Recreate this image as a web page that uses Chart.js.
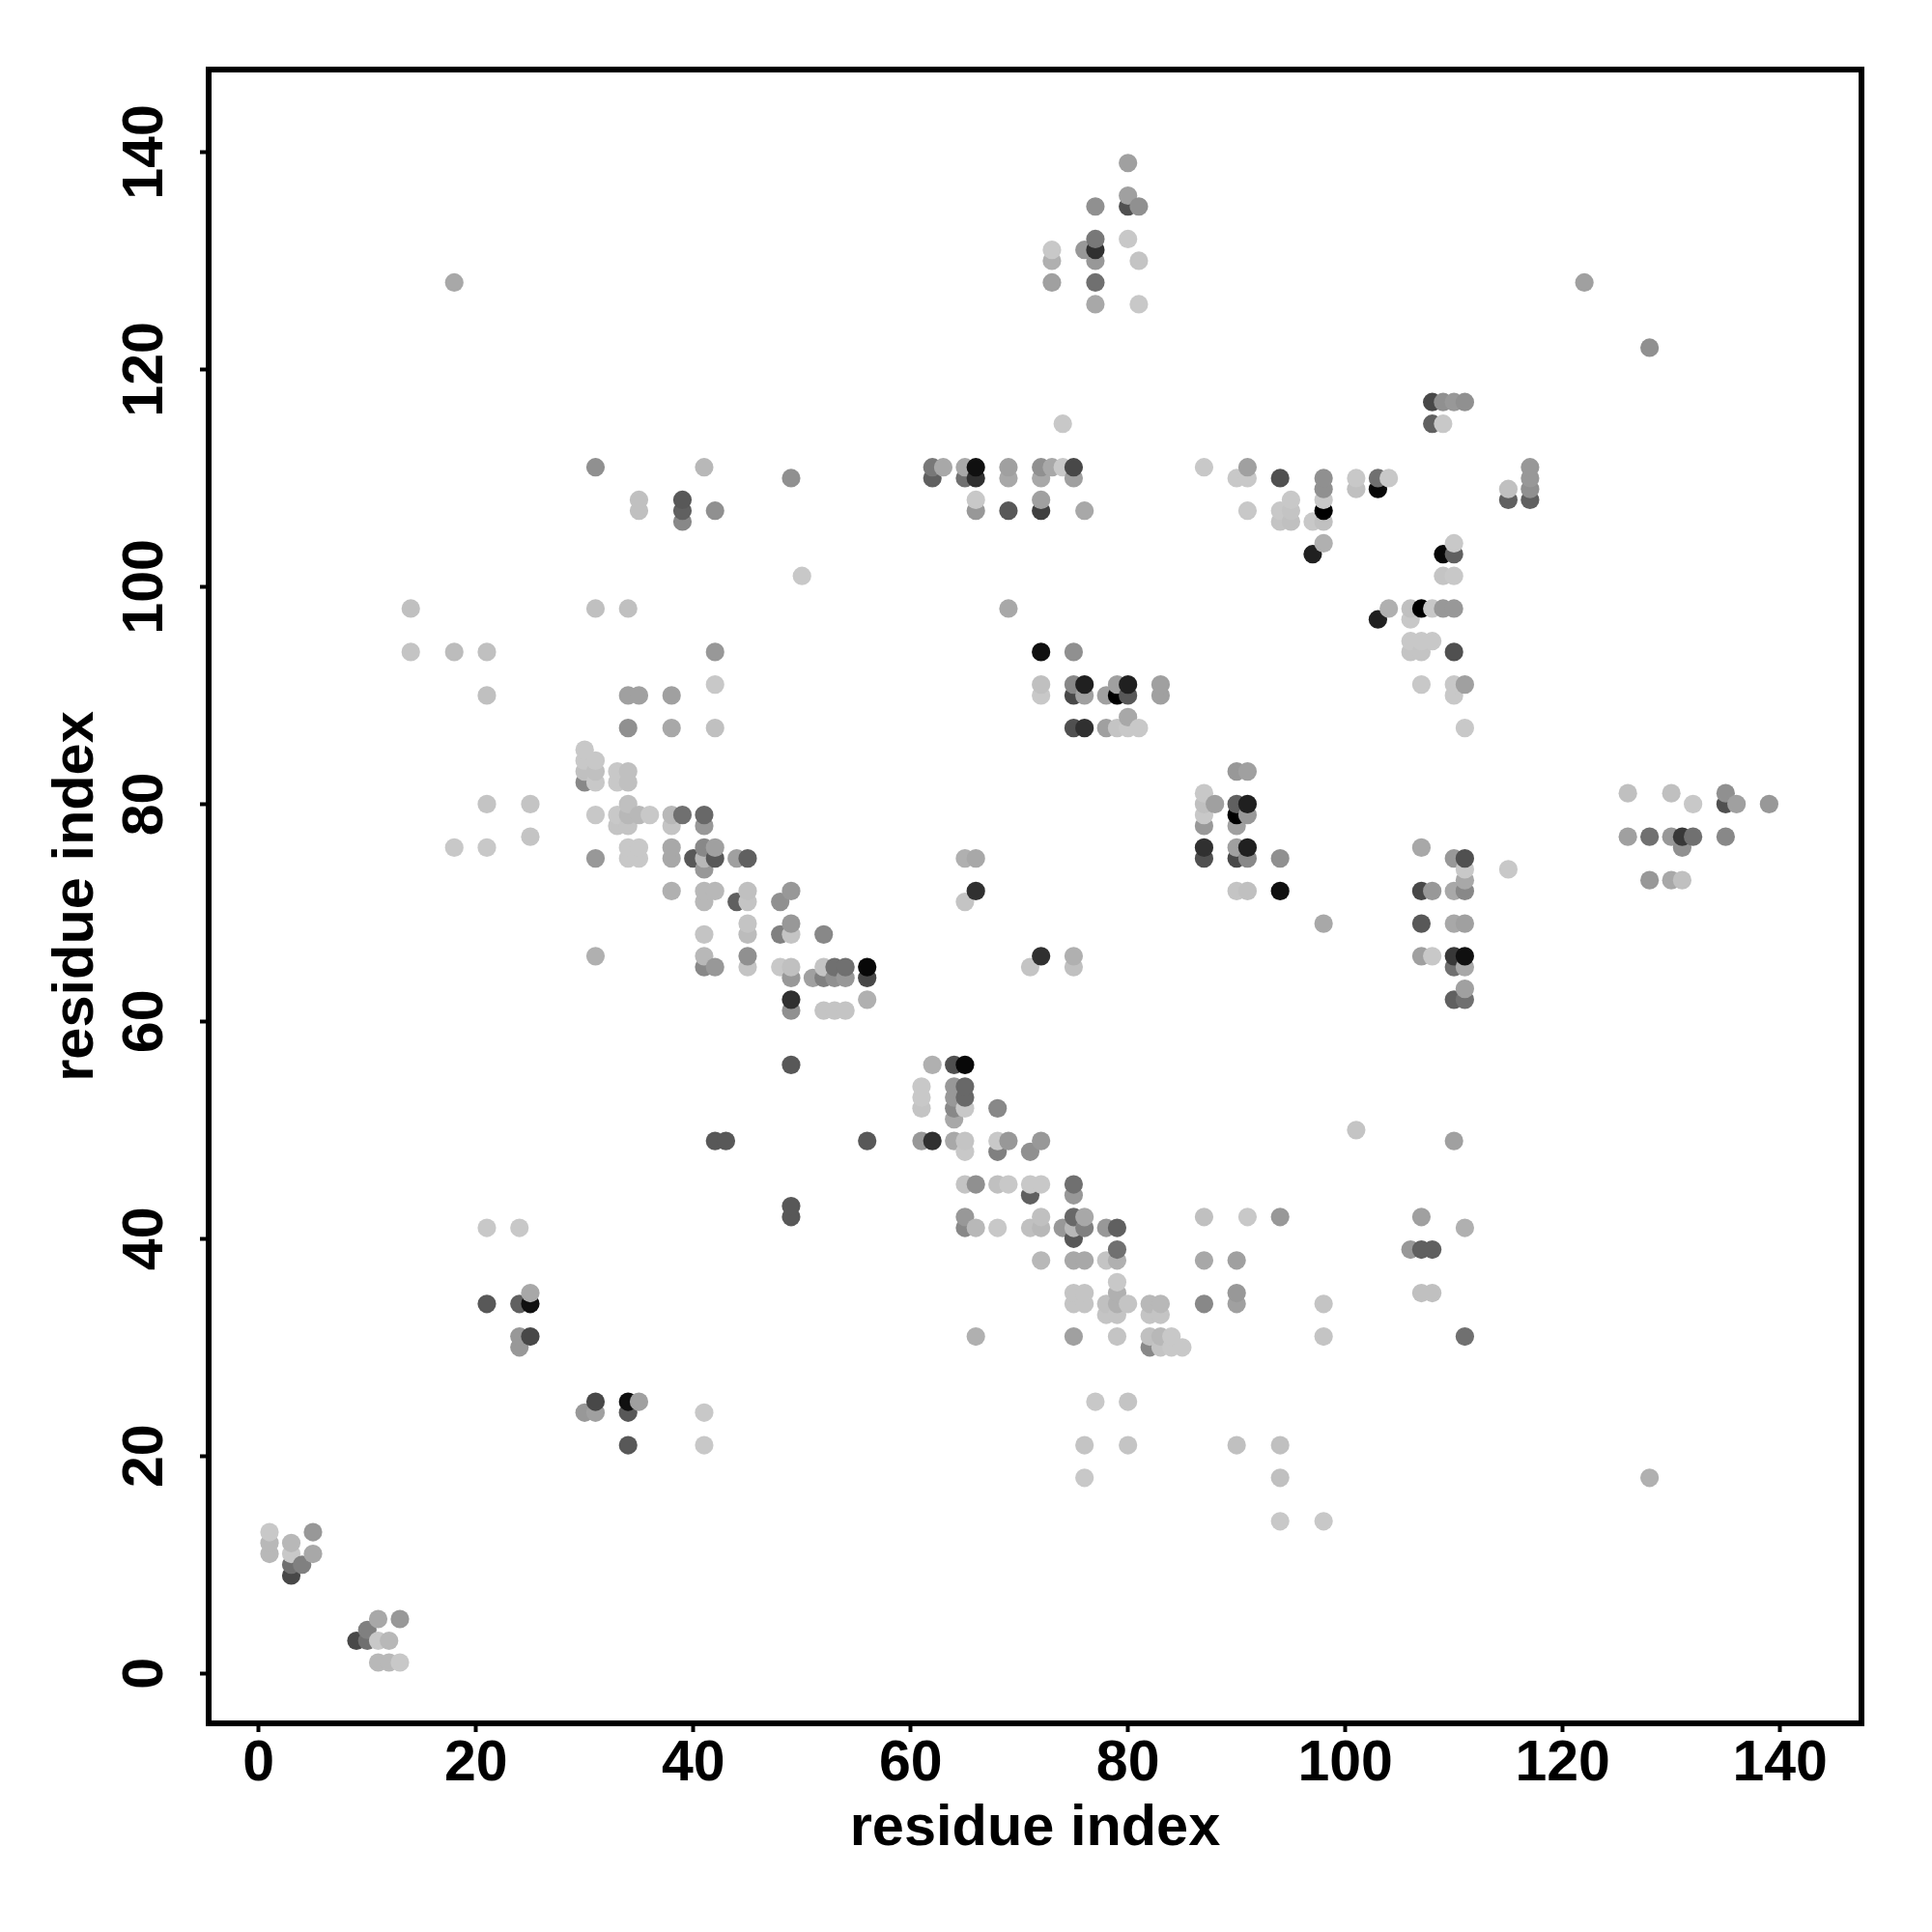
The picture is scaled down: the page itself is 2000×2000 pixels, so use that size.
<!DOCTYPE html>
<html>
<head>
<meta charset="utf-8">
<title>residue contacts</title>
<script src="https://cdn.jsdelivr.net/npm/chart.js@4"></script>
<style>
  html, body { margin: 0; padding: 0; background: #fff; }
  canvas { display: block; }
</style>
</head>
<body>
<canvas id="contacts" width="2000" height="2000"></canvas>
<script>
// contacts, one line per block of dots
const residueX = [
  1,1,1,3,3,3,3,4,5,5, 9,10,10,11,11,11,12,12,13,13,
  21,24,21,24,25,25,24,24,25,30,31,31,34,34,35,34,41,41,
  14,31,34, 14,18,21,42, 42, 21,34,35,38, 34,38,42,
  30,30,31,30,31,30,31,33,34,33,34,
  21,25,34, 31,33,34,35,36,38,39,41, 33,34,38,41, 25,
  18,21,34,35,38,41,42, 31,34,35,38,40,41,42,44,45, 41,
  38,41,42,45,49, 41,44,45,48, 45,49, 41,45,48,49,52,
  31,41,45, 41,42,45,48,49,52,53,54,56, 49,51,52,53,54,56,
  49,56, 49,52,53,54, 49, 42,43,56, 49,49,
  31,35,35,39,39,39,41,42,49,50, 18,
  62,64,65, 61,64,65, 61,64,65, 61,64,65,68, 64,
  61,62,64,65,68,69,72, 65,68,71,
  65,66,68,69,71,72,75, 71,75,
  65,72,75,76,87,91,94,107, 65,66,68,71,72,74,75,76,78,79, 75,
  79,106,107,108, 72,75,76,78,79,87,90,
  79,79,75,76,90,107,108, 75,76,78,79,80,82,83,87,90,98,
  78,79,82,83, 66,75,79,82,83,84,98, 82,83,84,85,
  101,110, 77,80, 76,80,90,94, 76,94, 94,98, 128, 111,111,
  80, 80,77,80,81, 77,80, 73,76,77, 73,77,81, 73,77, 77,81,
  74, 108,109,110,111, 108,109,
  62,63,65,66,69,72,73,74,75, 62,65,66,69,72,75,
  66,72, 66,69,72,76,
  87,91, 90,91,94,98,101,103,104, 98,101,103,
  95,98, 91,94,95,98, 94,95,97,98, 98, 97, 110, 109,110,
  115,115,117,117,117,117, 122,128,
  69, 72,75, 72,72,75,76,75,76,78,79,80,79,80,83,83, 80,
  75,76,78,79,80,81,
  90,91, 87, 87,88,90,91, 87,90,91, 87,90,
  87,90,91, 87,90,91,94, 90,91,94, 98,
  65,66, 66, 65, 72,75, 71,75,
  103,104,106,106,107,108,109,110, 109,110,
  106,107,108, 106,107,110, 107,110,111,110, 111,
  107,110,111,111,115,111, 107,108,110,111, 107,110,111,
  107,108,110,111, 110,111, 111, 110,111,
  126,130,132,135,135,136,139, 126,128,130,131,132,135, 131, 128,130,131
];
const residueY = [
  13,12,11,12,11,10,9,10,13,11, 3,3,4,5,3,1,3,1,5,1,
  41,41,34,34,34,35,31,30,31,24,24,25,25,24,25,21,24,21,
  98,98,98, 94,94,94,94, 91, 90,90,90,90, 87,87,87,
  85,84,84,83,83,82,82,83,83,82,82,
  80,80,80, 79,79,79,79,79,79,79,79, 78,78,78,78, 77,
  76,76,76,76,76,76,76, 75,75,75,75,75,75,75,75,75, 74,
  72,72,72,72,72, 71,71,71,71, 69,69, 68,68,68,68,68,
  66,66,66, 65,65,65,65,65,65,65,65,65, 64,64,64,64,64,64,
  62,62, 61,61,61,61, 56, 49,49,49, 43,42,
  111,108,107,108,107,106,111,107,110,101, 128,
  56,56,56, 54,54,54, 53,53,53, 52,52,52,52, 51,
  49,49,49,49,49,49,49, 48,48,48,
  45,45,45,45,45,45,45, 44,44,
  42,42,42,42,42,42,42,42, 41,41,41,41,41,41,41,41,41,41, 40,
  39,39,39,39, 38,38,38,38,38,38,38,
  36,35,35,35,35,35,35, 34,34,34,34,34,34,34,34,34,34,
  33,33,33,33, 31,31,31,31,31,31,31, 30,30,30,30,
  50,49, 25,25, 21,21,21,21, 18,18, 14,14, 18, 31,41,
  139, 136,135,135,135, 132,132, 131,131,131, 130,130,130, 128,128, 126,126,
  115, 117,117,117,117, 115,115,
  111,111,111,111,111,111,111,111,111, 110,110,110,110,110,110,
  108,108, 107,107,107,107,
  111,111, 110,110,110,110,110,110,110, 109,109,109,
  108,108, 107,107,107,107, 106,106,106,106, 104, 103, 104, 103,103,
  109,108,111,110,109,108, 128,122,
  98, 94,94, 91,90,91,91,90,90,90,91,91,90,90,91,90, 88,
  87,87,87,87,87,87,
  83,83, 81, 80,80,80,80, 79,79,79, 78,78,
  76,76,76, 75,75,75,75, 72,72,72, 69,
  75,75, 72, 71, 66,66, 65,65,
  97,98,98,97,98,98,98,98, 101,101,
  95,95,95, 94,94,94, 91,91,91,90, 87,
  76,75,75,74,74,73, 72,72,72,72, 69,69,69,
  66,66,66,66, 65,65, 63, 62,62,
  81,81,80,81,80,80,80, 77,77,77,77,77,77, 76, 73,73,73
];
// grey level of each dot, 0 is black
const contactShade = [
  0xc8,0xb8,0xb8,0xb8,0xc8,0x70,0x48,0x80,0x98,0xa8, 0x48,0x70,0x80,0xa8,0xc8,0xb8,0xb8,0xb8,0x98,0xc8,
  0xc8,0xc8,0x58,0x60,0x10,0xa8,0x98,0x98,0x48,0x98,0xa0,0x48,0x10,0x58,0xa0,0x58,0xc8,0xc8,
  0xc0,0xc0,0xc0, 0xc4,0xbc,0xc0,0x98, 0xc8, 0xc0,0xa0,0xa0,0xa0, 0x90,0xa8,0xc0,
  0xc8,0xc8,0xc8,0xc0,0xc0,0x88,0xc8,0xc8,0xc0,0xc8,0xc0,
  0xc4,0xc4,0xc0, 0xc8,0xc8,0xb8,0xb8,0xc8,0xb8,0x70,0x68, 0xc4,0xc4,0xc4,0x98, 0xc4,
  0xc8,0xc8,0xc8,0xc8,0xa8,0x88,0xa0, 0x98,0xc8,0xc8,0xa8,0x58,0xb8,0x58,0xa0,0x60, 0x98,
  0xb0,0xb8,0xb8,0xc0,0x98, 0xb8,0x60,0xc4,0x90, 0xc4,0x98, 0xc4,0xbc,0x80,0xc4,0x88,
  0xb0,0xb8,0x90, 0x88,0x98,0xc4,0xc8,0xc0,0xc4,0x70,0x70,0x08, 0x98,0xa0,0x80,0x90,0x98,0x48,
  0x30,0xb0, 0x90,0xc4,0xc4,0xc4, 0x58, 0x58,0x58,0x58, 0x58,0x58,
  0x90,0xc0,0xc0,0x58,0x60,0x88,0xb8,0x90,0x90,0xc8, 0xa8,
  0xb0,0x50,0x08, 0xc8,0x98,0x68, 0xc8,0x98,0x68, 0xc4,0x88,0xc8,0x88, 0xa8,
  0x98,0x30,0xa8,0xc4,0xc8,0x98,0x98, 0xc8,0x80,0x90,
  0xc4,0x90,0xc0,0xc8,0xc8,0xc8,0x70, 0x60,0x98,
  0x98,0xc0,0x68,0xa8,0xc0,0xc8,0x98,0xa0, 0x88,0xb8,0xc8,0xc0,0xb8,0x98,0xb8,0x80,0x98,0x60, 0x58,
  0x70,0x98,0x60,0x60, 0xb8,0xa8,0xa8,0xc4,0xb0,0xa8,0xa0,
  0xc8,0xb0,0xc4,0xc4,0x98,0xc0,0xc0, 0xc4,0xc4,0xc0,0xb0,0xc4,0xb8,0xb8,0x88,0xa0,0xc4,
  0xc4,0xc4,0xc4,0xc4, 0xb0,0xa0,0xc4,0xc0,0xb8,0xc8,0xc4, 0x88,0xc4,0xc8,0xc8,
  0xc4,0xa0, 0xc8,0xc4, 0xc4,0xc4,0xc0,0xc0, 0xc8,0xc0, 0xc8,0xc8, 0xb0, 0x70,0xb0,
  0xa0, 0xa0,0x90,0x50,0x90, 0x78,0xc8, 0xc8,0x98,0x30, 0xb0,0x98,0xc4, 0xa0,0x70, 0xa8,0xc8,
  0xc8, 0x48,0x90,0x98,0x90, 0x60,0xc8,
  0x78,0xa8,0xa8,0x10,0xa0,0x90,0xa8,0xc8,0x48, 0x60,0x70,0x30,0xa8,0xa8,0xa0,
  0xc8,0xa0, 0x98,0x58,0x40,0xa8,
  0xc8,0xa0, 0xc8,0xc8,0x50,0x90,0xc8,0x70,0xc8, 0x90,0xc0,0x08,
  0xc8,0xc8, 0xc8,0xc8,0xc4,0x00, 0xc4,0xc0,0xc8,0xc0, 0xb0, 0x20, 0xc8, 0x08,0x60,
  0xc0,0x60,0x98,0x98,0x90,0x60, 0xa0,0x90,
  0xa8, 0x10,0x90, 0xc0,0xc8,0x88,0x20,0x48,0xa0,0xa0,0xa0,0x20,0x00,0x58,0xa0,0xa0, 0xa8,
  0x50,0x30,0xa0,0xc4,0xc8,0xc8,
  0x98,0xa0, 0xc8, 0xc0,0xa0,0x60,0x20, 0xc8,0x00,0x98, 0x98,0xa0,
  0x30,0xa0,0x20, 0x50,0x48,0x88,0x90, 0xc4,0xc0,0x10, 0xa8,
  0xb0,0xa8, 0x30, 0xc4, 0x30,0xb0, 0xc4,0xc0,
  0x20,0xb0,0xc0,0xc8,0x00,0xc8,0x98,0x98, 0xc4,0xc8,
  0xc8,0xc8,0xc8, 0xc4,0xc4,0x50, 0xc8,0xc8,0xa0,0xc8, 0xc8,
  0xa8,0x98,0x50,0xc8,0xc8,0xa8, 0x48,0x98,0xa8,0x88, 0x58,0xa8,0xa0,
  0xa0,0xc8,0x38,0x10, 0x70,0xa8, 0xa0, 0x60,0x70,
  0xc0,0xc0,0xc8,0x90,0x50,0xa0,0x98, 0xa0,0x70,0x98,0x38,0x70,0x88, 0x90, 0x98,0xa8,0xc0
];
const axisTicks = [0, 20, 40, 60, 80, 100, 120, 140];
const axisTitle = 'residue index';

// same stacking as the original: later columns sit on top, then upwards inside a column
const drawOrder = residueX.map((_, i) => i).sort((a, b) => residueX[a] - residueX[b] || residueY[a] - residueY[b]);

const tickFont = { family: '"Liberation Sans"', size: 59, weight: 'bold', lineHeight: 1 };
const titleFont = { family: '"Liberation Sans"', size: 59.5, weight: 'bold', lineHeight: 1 };

const frame = {
  id: 'frame',
  afterDatasetsDraw(chart) {
    const { ctx, chartArea: a } = chart;
    ctx.save();
    ctx.strokeStyle = '#000';
    ctx.lineWidth = 6;
    ctx.strokeRect(a.left, a.top, a.right - a.left, a.bottom - a.top);
    ctx.restore();
  }
};

function axis(min, max, title) {
  return {
    type: 'linear',
    min: min,
    max: max,
    afterBuildTicks: scale => { scale.ticks = axisTicks.map(v => ({ value: v })); },
    border: { display: false },
    grid: { drawOnChartArea: false, drawTicks: true, tickLength: 9, tickWidth: 4, tickColor: '#000' },
    title: title,
    ticks: { autoSkip: false, includeBounds: false, color: '#000', font: tickFont, padding: 4 }
  };
}

const xAxis = axis(-4.6, 147.5, { display: true, text: axisTitle, color: '#000', font: titleFont, padding: { top: 0, bottom: 77 } });
xAxis.afterFit = scale => { scale.height = 216; };

const yAxis = axis(-4.6, 147.6, { display: true, text: axisTitle, color: '#000', font: titleFont, padding: { top: 50, bottom: 0 } });
yAxis.afterFit = scale => { scale.width = 216; };
yAxis.ticks.minRotation = 90;
yAxis.ticks.maxRotation = 90;
yAxis.ticks.crossAlign = 'center';
yAxis.ticks.padding = 6;

const contactChart = new Chart(document.getElementById('contacts').getContext('2d'), {
  type: 'scatter',
  data: {
    datasets: [{
      label: 'contacts',
      data: drawOrder.map(i => ({ x: residueX[i], y: residueY[i] })),
      backgroundColor: drawOrder.map(i => `rgb(${contactShade[i]},${contactShade[i]},${contactShade[i]})`),
      borderWidth: 0,
      pointRadius: 9.6,
      pointHoverRadius: 9.6
    }]
  },
  options: {
    responsive: false,
    animation: false,
    layout: { padding: { left: 0, top: 72, right: 73, bottom: 0 } },
    plugins: { legend: { display: false }, tooltip: { enabled: false } },
    scales: { x: xAxis, y: yAxis }
  },
  plugins: [frame]
});
</script>
</body>
</html>
